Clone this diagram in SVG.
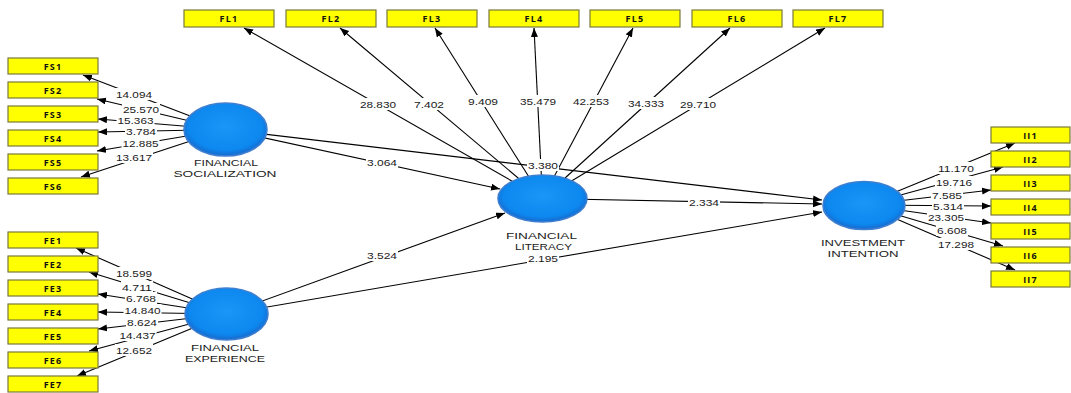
<svg xmlns="http://www.w3.org/2000/svg" width="1071" height="393" viewBox="0 0 1071 393">
<style>
.box{fill:#FFFF00;stroke:#7A7A3C;stroke-width:1.2}
.bt{font-family:"Open Sans","Noto Sans",sans-serif;font-size:9px;font-weight:bold;letter-spacing:1.2px;fill:#111;text-anchor:middle}
.lv{fill:url(#blue);stroke:#3F7FD0;stroke-width:1.6}
.lt{font-family:"Liberation Sans",Arial,sans-serif;font-size:9.5px;fill:#222;text-anchor:middle}
.ln{stroke:#000;stroke-width:1.1;fill:none;marker-end:url(#ah)}
.lb rect{fill:#fff}
.lb text{font-family:"Liberation Sans",Arial,sans-serif;font-size:9.5px;fill:#1a1a1a;text-anchor:middle}
</style>
<defs>
<radialGradient id="blue" cx="50%" cy="45%" r="55%">
<stop offset="0%" stop-color="#1A96F7"/>
<stop offset="80%" stop-color="#0C88EF"/>
<stop offset="100%" stop-color="#1868CC"/>
</radialGradient>
<marker id="ah" markerUnits="userSpaceOnUse" markerWidth="10" markerHeight="8" refX="9" refY="3.5" orient="auto">
<path d="M0,0 L9,3.5 L0,7 z" fill="#000"/>
</marker>
</defs>
<rect width="1071" height="393" fill="#fff"/>
<g id="connectors">
<line class="ln" x1="225.5" y1="129.5" x2="83" y2="75"/>
<line class="ln" x1="225.5" y1="129.5" x2="97" y2="99"/>
<line class="ln" x1="225.5" y1="129.5" x2="98" y2="119"/>
<line class="ln" x1="225.5" y1="129.5" x2="98" y2="132"/>
<line class="ln" x1="225.5" y1="129.5" x2="97" y2="151"/>
<line class="ln" x1="225.5" y1="129.5" x2="81" y2="177"/>
<line class="ln" x1="226.5" y1="314" x2="76" y2="248"/>
<line class="ln" x1="226.5" y1="314" x2="89" y2="272"/>
<line class="ln" x1="226.5" y1="314" x2="98" y2="294"/>
<line class="ln" x1="226.5" y1="314" x2="98" y2="312"/>
<line class="ln" x1="226.5" y1="314" x2="98" y2="329"/>
<line class="ln" x1="226.5" y1="314" x2="89" y2="351"/>
<line class="ln" x1="226.5" y1="314" x2="77" y2="376"/>
<line class="ln" x1="542.5" y1="198.5" x2="244" y2="28"/>
<line class="ln" x1="542.5" y1="198.5" x2="340" y2="28"/>
<line class="ln" x1="542.5" y1="198.5" x2="435" y2="28"/>
<line class="ln" x1="542.5" y1="198.5" x2="534" y2="28"/>
<line class="ln" x1="542.5" y1="198.5" x2="633" y2="28"/>
<line class="ln" x1="542.5" y1="198.5" x2="730" y2="28"/>
<line class="ln" x1="542.5" y1="198.5" x2="825" y2="28"/>
<line class="ln" x1="864" y1="205" x2="1015" y2="143"/>
<line class="ln" x1="864" y1="205" x2="1003" y2="167"/>
<line class="ln" x1="864" y1="205" x2="991" y2="190"/>
<line class="ln" x1="864" y1="205" x2="991" y2="206"/>
<line class="ln" x1="864" y1="205" x2="991" y2="223"/>
<line class="ln" x1="864" y1="205" x2="1003" y2="246"/>
<line class="ln" x1="864" y1="205" x2="1015" y2="270"/>
<line class="ln" x1="225.5" y1="129.5" x2="500" y2="189"/>
<line class="ln" x1="225.5" y1="129.5" x2="822" y2="200"/>
<line class="ln" x1="542.5" y1="198.5" x2="822" y2="204"/>
<line class="ln" x1="226.5" y1="314" x2="505" y2="213"/>
<line class="ln" x1="226.5" y1="314" x2="822" y2="212"/>
<g class="lb">
<rect x="115" y="88" width="38" height="12"/><text x="134" y="97.5" textLength="36" lengthAdjust="spacingAndGlyphs">14.094</text>
<rect x="122" y="103" width="38" height="12"/><text x="141" y="112.5" textLength="36" lengthAdjust="spacingAndGlyphs">25.570</text>
<rect x="116.5" y="114" width="38" height="12"/><text x="135.5" y="123.5" textLength="36" lengthAdjust="spacingAndGlyphs">15.363</text>
<rect x="125" y="125" width="32" height="12"/><text x="141" y="134.5" textLength="30" lengthAdjust="spacingAndGlyphs">3.784</text>
<rect x="121.5" y="137" width="38" height="12"/><text x="140.5" y="146.5" textLength="36" lengthAdjust="spacingAndGlyphs">12.885</text>
<rect x="115" y="151" width="38" height="12"/><text x="134" y="160.5" textLength="36" lengthAdjust="spacingAndGlyphs">13.617</text>
<rect x="115" y="267" width="38" height="12"/><text x="134" y="276.5" textLength="36" lengthAdjust="spacingAndGlyphs">18.599</text>
<rect x="121" y="281" width="32" height="12"/><text x="137" y="290.5" textLength="30" lengthAdjust="spacingAndGlyphs">4.711</text>
<rect x="125" y="292" width="32" height="12"/><text x="141" y="301.5" textLength="30" lengthAdjust="spacingAndGlyphs">6.768</text>
<rect x="123.5" y="304" width="38" height="12"/><text x="142.5" y="313.5" textLength="36" lengthAdjust="spacingAndGlyphs">14.840</text>
<rect x="126" y="316" width="32" height="12"/><text x="142" y="325.5" textLength="30" lengthAdjust="spacingAndGlyphs">8.624</text>
<rect x="118.5" y="329" width="38" height="12"/><text x="137.5" y="338.5" textLength="36" lengthAdjust="spacingAndGlyphs">14.437</text>
<rect x="115" y="344" width="38" height="12"/><text x="134" y="353.5" textLength="36" lengthAdjust="spacingAndGlyphs">12.652</text>
<rect x="359" y="98" width="38" height="12"/><text x="378" y="107.5" textLength="36" lengthAdjust="spacingAndGlyphs">28.830</text>
<rect x="413" y="98" width="32" height="12"/><text x="429" y="107.5" textLength="30" lengthAdjust="spacingAndGlyphs">7.402</text>
<rect x="467" y="95" width="32" height="12"/><text x="483" y="104.5" textLength="30" lengthAdjust="spacingAndGlyphs">9.409</text>
<rect x="519" y="95" width="38" height="12"/><text x="538" y="104.5" textLength="36" lengthAdjust="spacingAndGlyphs">35.479</text>
<rect x="572" y="95" width="38" height="12"/><text x="591" y="104.5" textLength="36" lengthAdjust="spacingAndGlyphs">42.253</text>
<rect x="627" y="97" width="38" height="12"/><text x="646" y="106.5" textLength="36" lengthAdjust="spacingAndGlyphs">34.333</text>
<rect x="679" y="98" width="38" height="12"/><text x="698" y="107.5" textLength="36" lengthAdjust="spacingAndGlyphs">29.710</text>
<rect x="937" y="162" width="38" height="12"/><text x="956" y="171.5" textLength="36" lengthAdjust="spacingAndGlyphs">11.170</text>
<rect x="935" y="176" width="38" height="12"/><text x="954" y="185.5" textLength="36" lengthAdjust="spacingAndGlyphs">19.716</text>
<rect x="931" y="189" width="32" height="12"/><text x="947" y="198.5" textLength="30" lengthAdjust="spacingAndGlyphs">7.585</text>
<rect x="932" y="200" width="32" height="12"/><text x="948" y="209.5" textLength="30" lengthAdjust="spacingAndGlyphs">5.314</text>
<rect x="927" y="211" width="38" height="12"/><text x="946" y="220.5" textLength="36" lengthAdjust="spacingAndGlyphs">23.305</text>
<rect x="936" y="224" width="32" height="12"/><text x="952" y="233.5" textLength="30" lengthAdjust="spacingAndGlyphs">6.608</text>
<rect x="937" y="238" width="38" height="12"/><text x="956" y="247.5" textLength="36" lengthAdjust="spacingAndGlyphs">17.298</text>
<rect x="366" y="156" width="32" height="12"/><text x="382" y="165.5" textLength="30" lengthAdjust="spacingAndGlyphs">3.064</text>
<rect x="527" y="159" width="32" height="12"/><text x="543" y="168.5" textLength="30" lengthAdjust="spacingAndGlyphs">3.380</text>
<rect x="688" y="196" width="32" height="12"/><text x="704" y="205.5" textLength="30" lengthAdjust="spacingAndGlyphs">2.334</text>
<rect x="366" y="249" width="32" height="12"/><text x="382" y="258.5" textLength="30" lengthAdjust="spacingAndGlyphs">3.524</text>
<rect x="527" y="252" width="32" height="12"/><text x="543" y="261.5" textLength="30" lengthAdjust="spacingAndGlyphs">2.195</text>
</g>
</g>
<g id="FS">
<ellipse class="lv" cx="225.5" cy="129.5" rx="41.5" ry="26.5"/>
<text class="lt" x="226" y="166" textLength="64" lengthAdjust="spacingAndGlyphs">FINANCIAL</text>
<text class="lt" x="225" y="177" textLength="103" lengthAdjust="spacingAndGlyphs">SOCIALIZATION</text>
</g>
<g id="FE">
<ellipse class="lv" cx="226.5" cy="314" rx="41.5" ry="26"/>
<text class="lt" x="225" y="351" textLength="68" lengthAdjust="spacingAndGlyphs">FINANCIAL</text>
<text class="lt" x="225" y="362" textLength="80" lengthAdjust="spacingAndGlyphs">EXPERIENCE</text>
</g>
<g id="FL">
<ellipse class="lv" cx="542.5" cy="198.5" rx="44.5" ry="23.5"/>
<text class="lt" x="541.5" y="238.5" textLength="71" lengthAdjust="spacingAndGlyphs">FINANCIAL</text>
<text class="lt" x="543.5" y="249.5" textLength="57" lengthAdjust="spacingAndGlyphs">LITERACY</text>
</g>
<g id="II">
<ellipse class="lv" cx="864" cy="205.5" rx="41" ry="24"/>
<text class="lt" x="863" y="245.5" textLength="84" lengthAdjust="spacingAndGlyphs">INVESTMENT</text>
<text class="lt" x="863" y="256.5" textLength="71" lengthAdjust="spacingAndGlyphs">INTENTION</text>
</g>
<g id="FS1"><rect class="box" x="8" y="58" width="90" height="16"/><text class="bt" x="53" y="69.5">FS1</text></g>
<g id="FS2"><rect class="box" x="8" y="82" width="90" height="16"/><text class="bt" x="53" y="93.5">FS2</text></g>
<g id="FS3"><rect class="box" x="8" y="106" width="90" height="16"/><text class="bt" x="53" y="117.5">FS3</text></g>
<g id="FS4"><rect class="box" x="8" y="130" width="90" height="16"/><text class="bt" x="53" y="141.5">FS4</text></g>
<g id="FS5"><rect class="box" x="8" y="154" width="90" height="16"/><text class="bt" x="53" y="165.5">FS5</text></g>
<g id="FS6"><rect class="box" x="8" y="178" width="90" height="16"/><text class="bt" x="53" y="189.5">FS6</text></g>
<g id="FE1"><rect class="box" x="8" y="232" width="90" height="16"/><text class="bt" x="53" y="243.5">FE1</text></g>
<g id="FE2"><rect class="box" x="8" y="256" width="90" height="16"/><text class="bt" x="53" y="267.5">FE2</text></g>
<g id="FE3"><rect class="box" x="8" y="280" width="90" height="16"/><text class="bt" x="53" y="291.5">FE3</text></g>
<g id="FE4"><rect class="box" x="8" y="304" width="90" height="16"/><text class="bt" x="53" y="315.5">FE4</text></g>
<g id="FE5"><rect class="box" x="8" y="328" width="90" height="16"/><text class="bt" x="53" y="339.5">FE5</text></g>
<g id="FE6"><rect class="box" x="8" y="352" width="90" height="16"/><text class="bt" x="53" y="363.5">FE6</text></g>
<g id="FE7"><rect class="box" x="8" y="376" width="90" height="16"/><text class="bt" x="53" y="387.5">FE7</text></g>
<g id="FL1"><rect class="box" x="184" y="10" width="90" height="17"/><text class="bt" x="229" y="22">FL1</text></g>
<g id="FL2"><rect class="box" x="286" y="10" width="90" height="17"/><text class="bt" x="331" y="22">FL2</text></g>
<g id="FL3"><rect class="box" x="387" y="10" width="90" height="17"/><text class="bt" x="432" y="22">FL3</text></g>
<g id="FL4"><rect class="box" x="489" y="10" width="90" height="17"/><text class="bt" x="534" y="22">FL4</text></g>
<g id="FL5"><rect class="box" x="590" y="10" width="90" height="17"/><text class="bt" x="635" y="22">FL5</text></g>
<g id="FL6"><rect class="box" x="692" y="10" width="90" height="17"/><text class="bt" x="737" y="22">FL6</text></g>
<g id="FL7"><rect class="box" x="793" y="10" width="90" height="17"/><text class="bt" x="838" y="22">FL7</text></g>
<g id="II1"><rect class="box" x="991" y="127" width="79" height="16"/><text class="bt" x="1030.5" y="138.5">II1</text></g>
<g id="II2"><rect class="box" x="991" y="151" width="79" height="16"/><text class="bt" x="1030.5" y="162.5">II2</text></g>
<g id="II3"><rect class="box" x="991" y="175" width="79" height="16"/><text class="bt" x="1030.5" y="186.5">II3</text></g>
<g id="II4"><rect class="box" x="991" y="199" width="79" height="16"/><text class="bt" x="1030.5" y="210.5">II4</text></g>
<g id="II5"><rect class="box" x="991" y="223" width="79" height="16"/><text class="bt" x="1030.5" y="234.5">II5</text></g>
<g id="II6"><rect class="box" x="991" y="247" width="79" height="16"/><text class="bt" x="1030.5" y="258.5">II6</text></g>
<g id="II7"><rect class="box" x="991" y="271" width="79" height="16"/><text class="bt" x="1030.5" y="282.5">II7</text></g>
</svg>
